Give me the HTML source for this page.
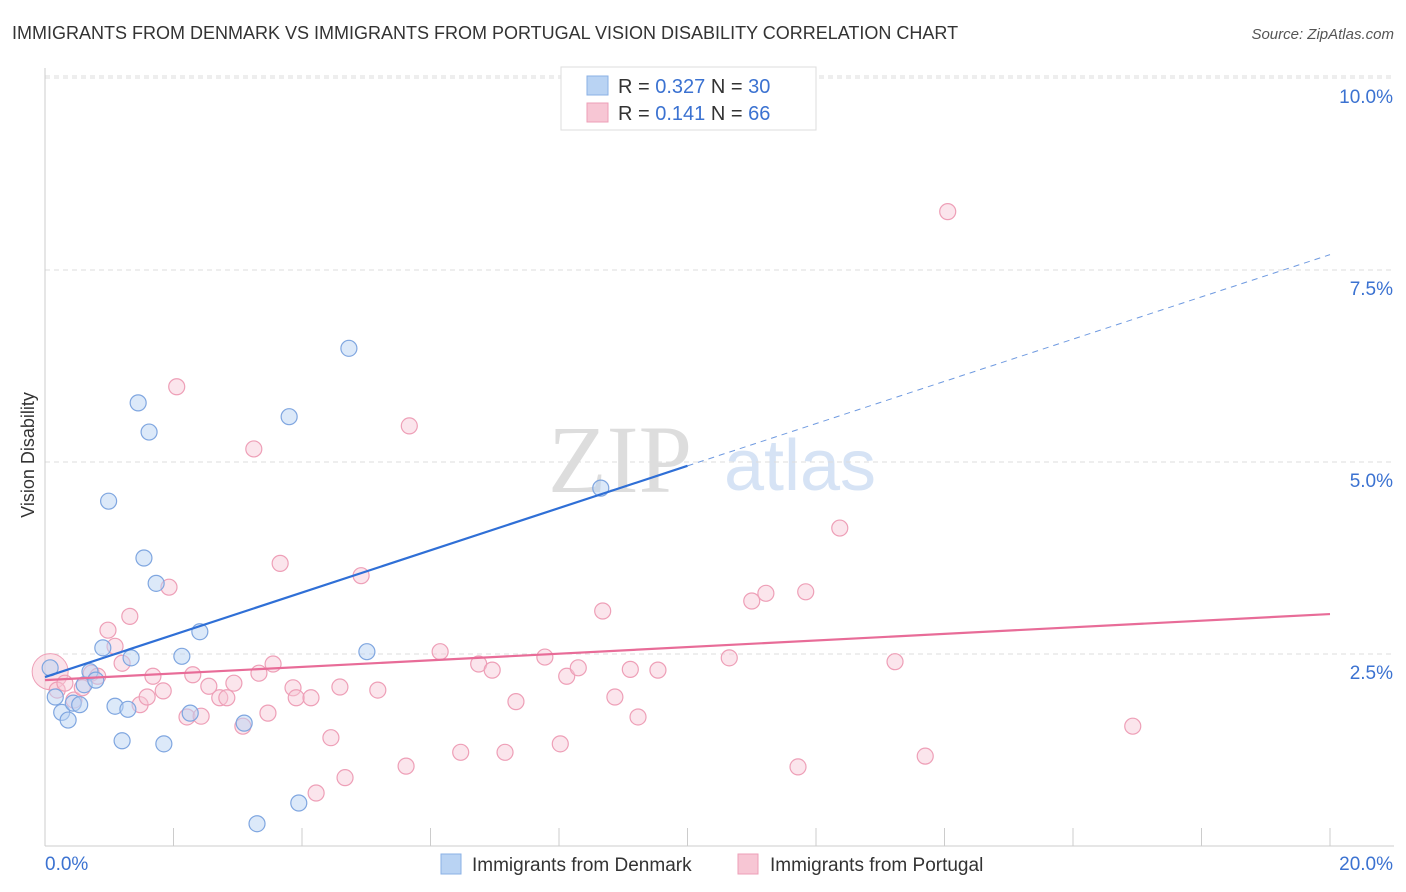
<!DOCTYPE html>
<html><head><meta charset="utf-8"><style>
body{margin:0;background:#fff;font-family:"Liberation Sans",sans-serif;}
#wrap{position:relative;width:1406px;height:892px;overflow:hidden;}
</style></head><body>
<div id="wrap">
<svg id="svg" width="1406" height="892" xmlns="http://www.w3.org/2000/svg">
<text x="12" y="39" font-size="18" fill="#333">IMMIGRANTS FROM DENMARK VS IMMIGRANTS FROM PORTUGAL VISION DISABILITY CORRELATION CHART</text>
<text x="1394" y="39" font-size="15" fill="#555" font-style="italic" text-anchor="end">Source: ZipAtlas.com</text>
<text x="620" y="492" font-size="96" fill="#ddd" font-family="Liberation Serif,serif" text-anchor="middle">ZIP</text>
<text x="800" y="490" font-size="72" fill="#d6e3f5" text-anchor="middle">atlas</text>
<text transform="translate(34,455) rotate(-90)" font-size="18" fill="#333" text-anchor="middle">Vision Disability</text>
<g id="grid"></g><g id="marks"></g>
<rect x="561" y="67" width="255" height="63" fill="#fff" stroke="#ddd"/>
<rect x="587" y="76" width="21" height="19" fill="#b9d3f3" stroke="#8ab0e6"/>
<rect x="587" y="103" width="21" height="19" fill="#f7c6d4" stroke="#ee9fb7"/>
<text x="618" y="93" font-size="20" fill="#333">R = <tspan fill="#3b72d1">0.327</tspan>   N = <tspan fill="#3b72d1">30</tspan></text>
<text x="618" y="120" font-size="20" fill="#333">R =  <tspan fill="#3b72d1">0.141</tspan>   N = <tspan fill="#3b72d1">66</tspan></text>
<rect x="441" y="854" width="20" height="20" fill="#b9d3f3" stroke="#8ab0e6"/>
<text x="472" y="871" font-size="19" fill="#333">Immigrants from Denmark</text>
<rect x="738" y="854" width="20" height="20" fill="#f7c6d4" stroke="#ee9fb7"/>
<text x="770" y="871" font-size="19" fill="#333">Immigrants from Portugal</text>
</svg>
</div>
<script>
const blueX=[0.08,0.16,0.26,0.36,0.44,0.54,0.61,0.70,0.79,0.90,0.99,1.09,1.20,1.29,1.34,1.45,1.54,1.62,1.73,1.85,2.13,2.26,2.41,3.10,3.30,3.80,3.95,4.73,5.01,8.65];
const blueY=[2.32,1.94,1.74,1.64,1.86,1.84,2.10,2.27,2.16,2.58,4.49,1.82,1.37,1.78,2.45,5.77,3.75,5.39,3.42,1.33,2.47,1.73,2.79,1.60,0.29,5.59,0.56,6.48,2.53,4.66];
const pinkX=[0.19,0.31,0.45,0.58,0.72,0.82,0.98,1.09,1.20,1.32,1.48,1.59,1.68,1.84,1.93,2.05,2.21,2.30,2.43,2.55,2.72,2.83,2.94,3.08,3.25,3.33,3.47,3.55,3.66,3.86,3.91,4.14,4.22,4.45,4.59,4.67,4.92,5.18,5.62,5.67,6.15,6.47,6.75,6.96,7.16,7.33,7.78,8.02,8.12,8.30,8.68,8.87,9.11,9.23,9.54,10.65,11.00,11.22,11.72,11.84,12.37,13.23,13.70,14.05,16.93];
const pinkY=[2.03,2.12,1.90,2.06,2.25,2.21,2.81,2.60,2.38,2.99,1.84,1.94,2.21,2.02,3.37,5.98,1.68,2.23,1.69,2.08,1.93,1.93,2.12,1.56,5.17,2.25,1.73,2.37,3.68,2.06,1.93,1.93,0.69,1.41,2.07,0.89,3.52,2.03,1.04,5.47,2.53,1.22,2.37,2.29,1.22,1.88,2.46,1.33,2.21,2.32,3.06,1.94,2.30,1.68,2.29,2.45,3.19,3.29,1.03,3.31,4.14,2.40,1.17,8.26,1.56];
const bigPink=[0.08,2.27];
const blueLine=[2.20,7.70]; // y at x=0 and x=20
const blueSolidEnd=10;
const pinkLine=[2.16,3.02];
const yTicks=[2.5,5.0,7.5,10.0];
const yTickLabels=["2.5%","5.0%","7.5%","10.0%"];
const xTicks=[0,2,4,6,8,10,12,14,16,18,20];
const xEndLabels=["0.0%","20.0%"];
const NS="http://www.w3.org/2000/svg";
const X=v=>45+v*64.25, Y=v=>846-v*76.8;
const grid=document.getElementById('grid'), marks=document.getElementById('marks');
function mk(p,tag,a){const e=document.createElementNS(NS,tag);for(const k in a)e.setAttribute(k,a[k]);p.appendChild(e);return e;}
yTicks.forEach((t,i)=>{
 const l=mk(grid,'line',{x1:45,x2:1394,y1:Y(t),y2:Y(t),stroke:'#ddd','stroke-dasharray':'5,4'});
 
 
 const tx=mk(grid,'text',{x:1393,y:Y(t)+25,'font-size':19,fill:'#3b72d1','text-anchor':'end'});
 tx.textContent=yTickLabels[i];
 
 
});
const tl=mk(grid,'line',{x1:45,x2:1394,y1:Y(10)-2,y2:Y(10)-2,stroke:'#ddd','stroke-dasharray':'5,4'});


const ax=mk(grid,'line',{x1:45,x2:45,y1:68,y2:846,stroke:'#ccc'});


const bx=mk(grid,'line',{x1:45,x2:1394,y1:846,y2:846,stroke:'#ccc'});


xTicks.forEach(t=>{const l=mk(grid,'line',{x1:X(t),x2:X(t),y1:828,y2:846,stroke:'#ccc'});
 
 });
[[0,'start',45],[20,'end',1393]].forEach((d,i)=>{const tx=mk(grid,'text',{x:d[2],y:870,'font-size':19,fill:'#3b72d1','text-anchor':d[1]});
 tx.textContent=xEndLabels[i];
 
 });
const bc=mk(marks,'circle',{cx:X(bigPink[0]),cy:Y(bigPink[1]),r:18,fill:'rgba(247,198,212,0.5)',stroke:'#ee9fb7'});


pinkX.forEach((x,i)=>{const c=mk(marks,'circle',{cx:X(x),cy:Y(pinkY[i]),r:8,fill:'rgba(247,198,212,0.45)',stroke:'#ee9fb7','stroke-width':1.2});
 
 });
blueX.forEach((x,i)=>{const c=mk(marks,'circle',{cx:X(x),cy:Y(blueY[i]),r:8,fill:'rgba(185,211,243,0.5)',stroke:'#7fa6e0','stroke-width':1.2});
 
 });
const by=x=>blueLine[0]+(blueLine[1]-blueLine[0])*x/20;
const b1=mk(marks,'line',{x1:X(0),y1:Y(by(0)),x2:X(blueSolidEnd),y2:Y(by(blueSolidEnd)),stroke:'#2f6fd6','stroke-width':2.2});


const b2=mk(marks,'line',{x1:X(blueSolidEnd),y1:Y(by(blueSolidEnd)),x2:X(20),y2:Y(by(20)),stroke:'#6f9ae0','stroke-width':1,'stroke-dasharray':'6,5'});


const p1=mk(marks,'line',{x1:X(0),y1:Y(pinkLine[0]),x2:X(20),y2:Y(pinkLine[1]),stroke:'#e86c98','stroke-width':2.2});


</script>
</body></html>
